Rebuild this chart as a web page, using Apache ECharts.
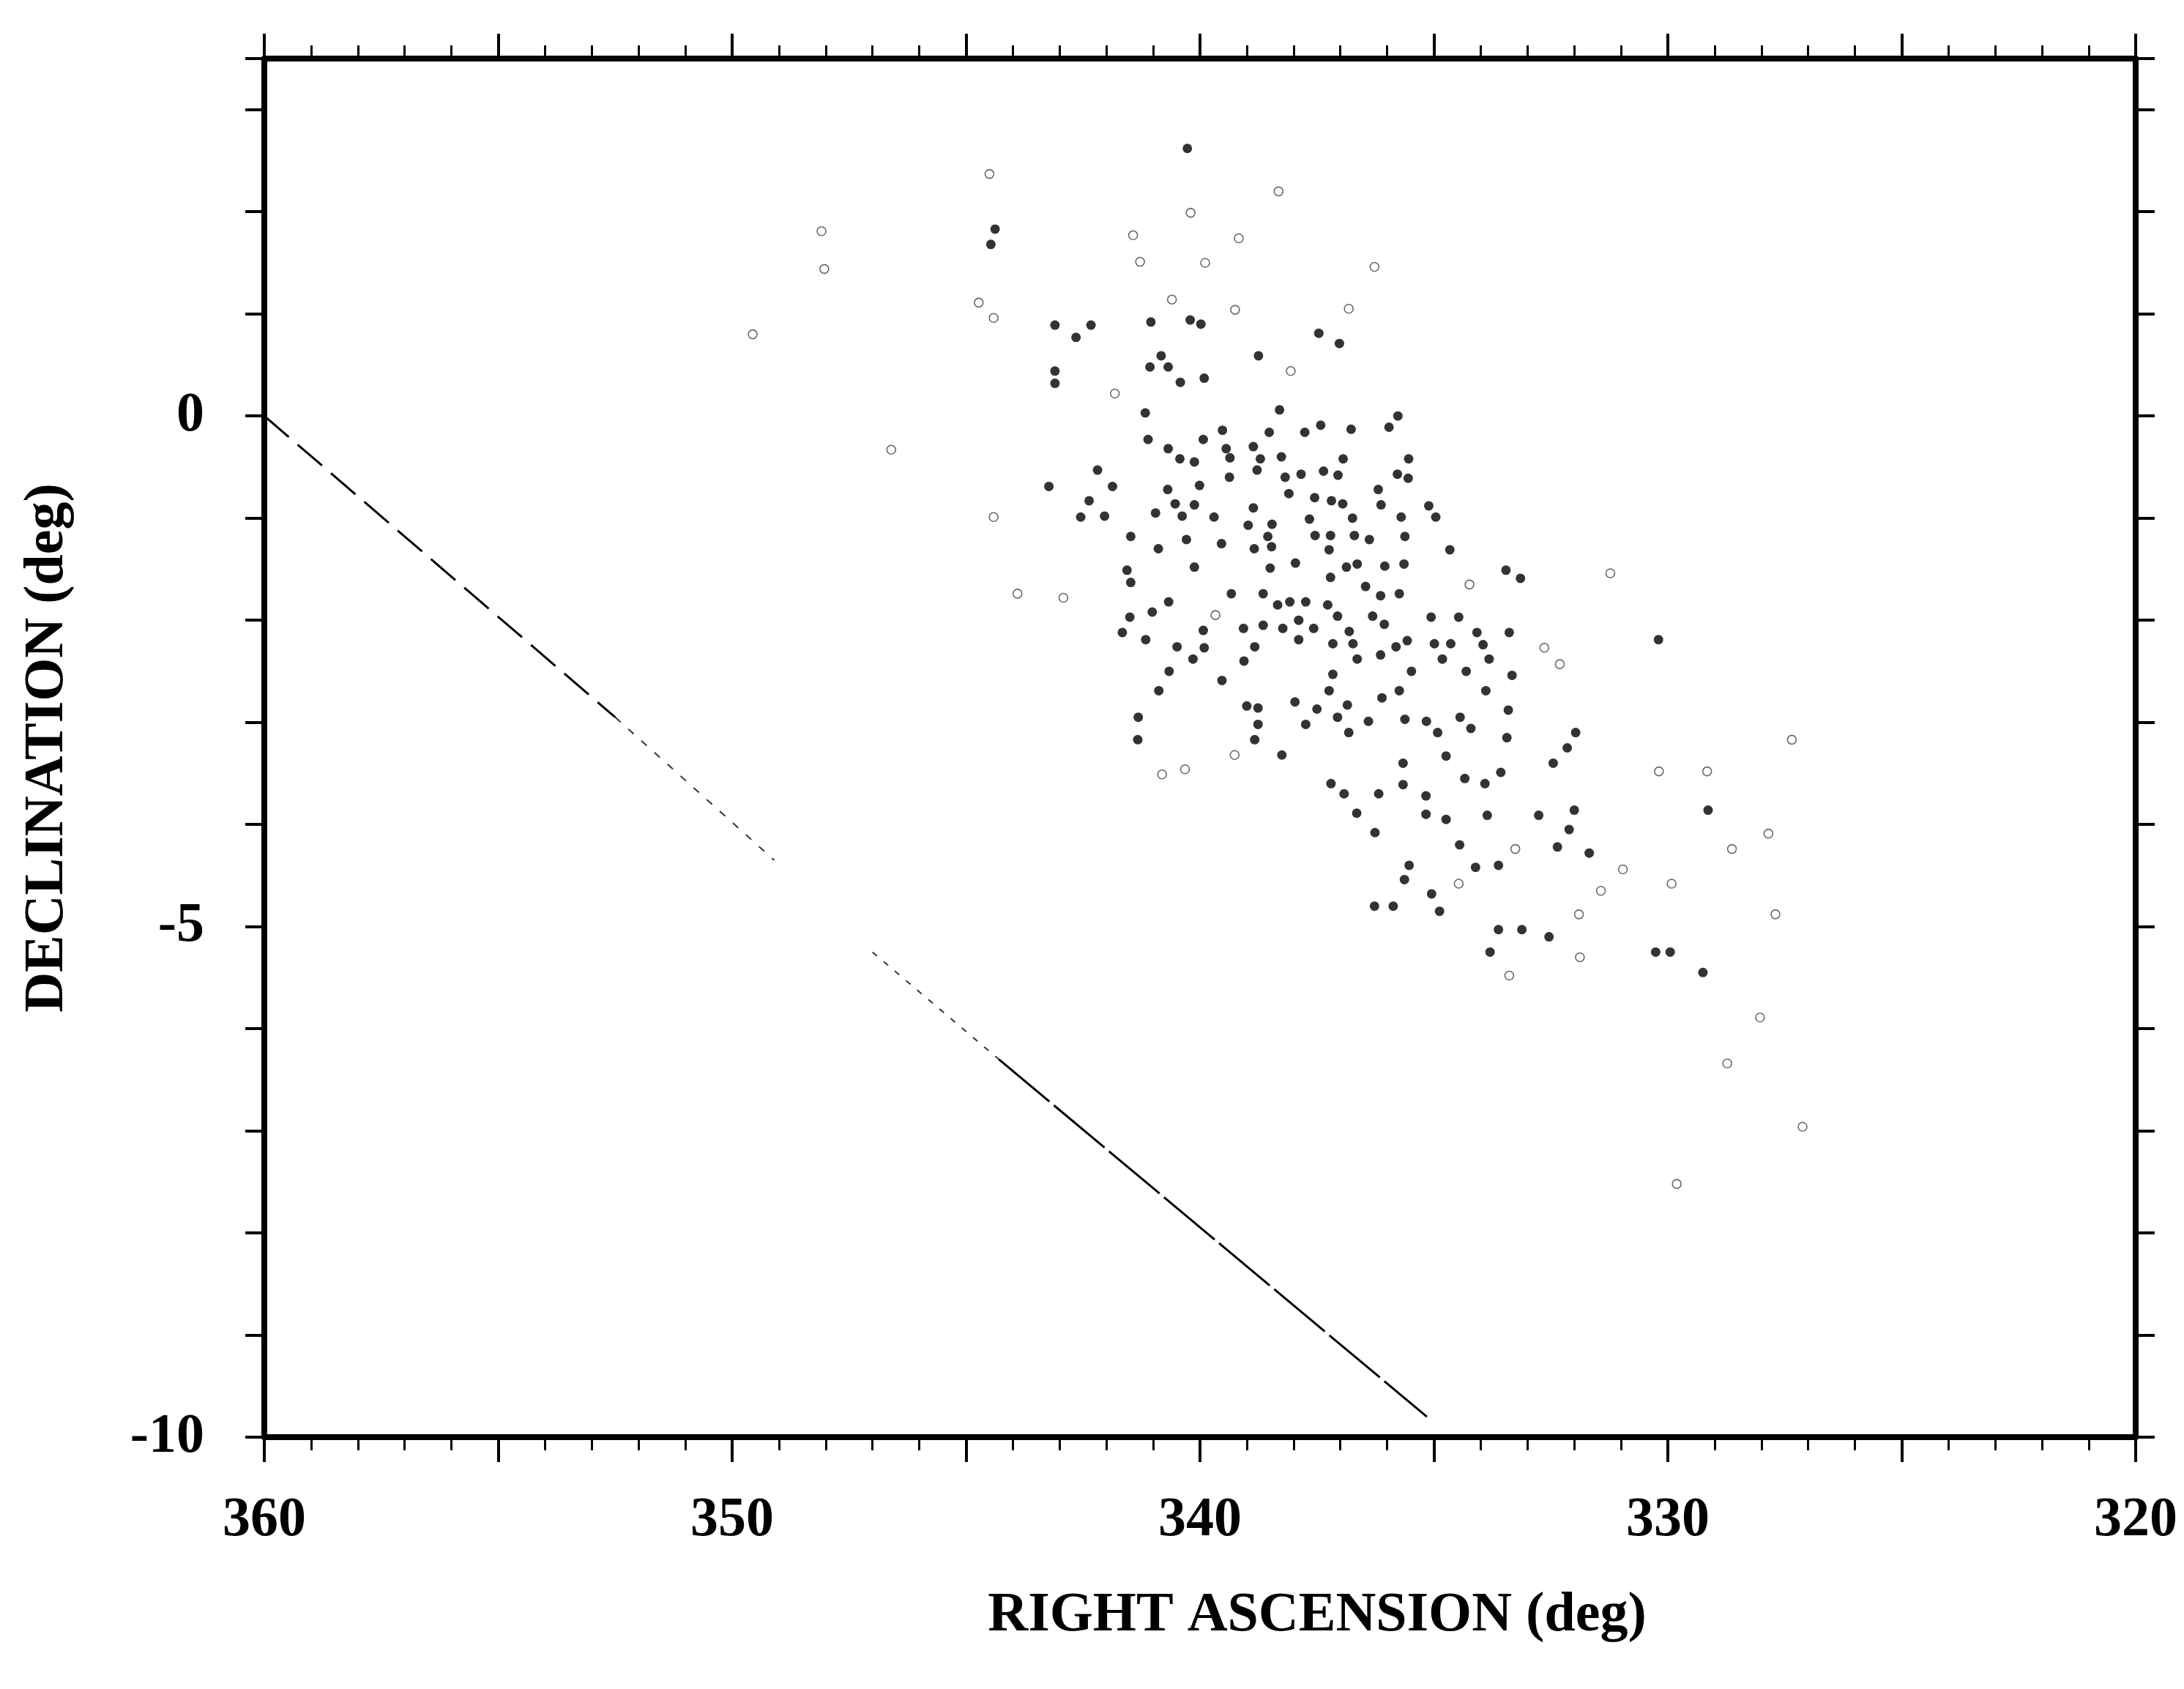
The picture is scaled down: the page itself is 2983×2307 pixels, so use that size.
<!DOCTYPE html>
<html>
<head>
<meta charset="utf-8">
<script src="https://cdn.jsdelivr.net/npm/echarts@6/dist/echarts.min.js"></script>
<style>
  html, body { margin: 0; padding: 0; background: #fff; }
  #chart { width: 2983px; height: 2307px; }
</style>
</head>
<body>
<div id="chart"></div>
<script>
// filled points (right ascension, declination)
const filledRA = [
  340.27, 344.38, 344.47, 343.10, 342.33, 342.65, 341.05, 340.21, 339.98, 338.75,
  340.83, 341.07, 340.68, 340.42, 339.91, 343.10, 343.10, 341.17, 338.30, 337.46,
  337.02, 335.77,
  339.52, 338.52, 337.76, 337.42, 341.11, 339.93, 340.68, 340.43, 340.12, 339.44,
  339.36, 338.86, 338.71, 338.26, 338.78, 342.19, 343.23, 341.87, 340.69, 340.01,
  339.37, 338.18, 337.84, 337.36, 338.10, 337.55, 337.19, 342.37, 342.55, 342.04,
  340.95, 340.53, 340.12, 340.38, 339.70, 338.86, 338.97, 338.46, 338.55, 337.66,
  337.54, 337.21, 337.24, 341.48, 340.89, 340.29, 339.54, 338.84, 338.47, 340.12,
  338.50, 337.96, 337.21, 341.56, 341.48, 339.33, 338.65, 340.67, 341.02, 341.50,
  338.34, 338.08, 337.74, 337.27, 339.93, 339.07, 338.65, 338.23, 337.89, 337.57,
  337.89, 341.66, 341.16, 340.49, 339.91, 338.83, 340.15, 339.06, 340.66, 337.16,
  339.53, 340.88, 337.16, 337.24, 339.00, 338.76, 337.97, 337.50, 341.32, 338.76,
  337.74,
  336.77, 335.96, 336.94, 335.54, 337.05, 335.78, 335.55, 336.19, 336.95, 336.13,
  335.11, 334.96, 336.74, 335.70, 336.70, 336.38, 335.62, 334.66, 336.87, 336.64,
  336.05, 335.64, 333.46, 333.15, 336.46, 336.14, 335.74, 337.06, 336.31, 336.06,
  335.06, 334.47, 336.81, 336.73, 335.57, 335.81, 334.99, 334.64, 334.08, 333.95,
  333.39, 336.64, 336.14, 334.82, 333.82, 335.48, 334.31, 333.33, 335.74, 336.11,
  336.85, 333.89, 333.41, 337.06, 336.40, 335.62, 335.16, 334.44, 334.21,
  341.33, 338.83, 338.25, 336.82, 334.92, 333.44, 331.97, 332.15, 332.45, 330.20,
  335.66, 336.18, 336.92, 335.66, 335.17, 334.34, 333.91, 333.57, 334.74, 337.20,
  336.65, 335.17, 334.74, 333.86, 332.76, 332.00, 329.14, 336.26, 332.11, 332.36,
  331.68, 334.45, 335.53, 334.11, 333.62, 335.63, 335.05, 336.27, 335.87, 334.88,
  333.62, 333.12, 332.54, 333.80, 330.26, 329.95, 329.25
];
const filledDec = [
  2.62, 1.83, 1.68, 0.89, 0.89, 0.77, 0.92, 0.94, 0.90, 0.59,
  0.59, 0.48, 0.48, 0.33, 0.37, 0.44, 0.32, 0.03, 0.06, 0.81,
  0.71, 0.00,
  -0.14, -0.16, -0.16, -0.09, -0.23, -0.23, -0.32, -0.42, -0.45, -0.32,
  -0.41, -0.30, -0.42, -0.40, -0.53, -0.53, -0.69, -0.69, -0.72, -0.68,
  -0.60, -0.60, -0.57, -0.54, -0.76, -0.80, -0.83, -0.83, -0.99, -0.98,
  -0.95, -0.86, -0.87, -0.98, -0.99, -0.90, -1.07, -1.06, -1.18, -1.01,
  -1.17, -1.17, -1.31, -1.18, -1.30, -1.21, -1.25, -1.30, -1.28, -1.48,
  -1.49, -1.44, -1.58, -1.51, -1.63, -1.74, -1.74, -1.82, -1.92, -1.97,
  -1.85, -1.82, -1.82, -1.85, -2.10, -2.08, -2.05, -2.08, -2.00, -2.08,
  -2.19, -2.12, -2.19, -2.26, -2.27, -2.26, -2.38, -2.40, -2.50, -2.23,
  -2.59, -2.69, -2.53, -2.69, -2.84, -2.86, -2.80, -2.87, -2.95, -3.02,
  -3.02,
  -0.13, -0.11, -0.42, -0.42, -0.58, -0.57, -0.61, -0.72, -0.86, -0.87,
  -0.88, -0.99, -1.00, -0.99, -1.17, -1.21, -1.18, -1.31, -1.48, -1.45,
  -1.47, -1.45, -1.51, -1.59, -1.67, -1.76, -1.74, -1.96, -1.96, -2.04,
  -1.97, -1.97, -2.11, -2.23, -2.20, -2.26, -2.23, -2.23, -2.12, -2.24,
  -2.12, -2.38, -2.34, -2.38, -2.38, -2.50, -2.50, -2.54, -2.69, -2.76,
  -2.83, -2.69, -2.88, -2.95, -2.99, -2.97, -2.99, -2.95, -3.06,
  -3.17, -3.17, -3.32, -3.10, -3.10, -3.15, -3.10, -3.25, -3.40, -2.19,
  -3.40, -3.70, -3.70, -3.61, -3.72, -3.55, -3.60, -3.49, -3.33, -3.60,
  -3.89, -3.90, -3.95, -3.91, -3.91, -3.86, -3.86, -4.08, -4.05, -4.22,
  -4.28, -4.20, -4.40, -4.42, -4.40, -4.54, -4.68, -4.80, -4.80, -4.85,
  -5.03, -5.03, -5.10, -5.25, -5.25, -5.25, -5.45
];

// open circles
const openRA = [
  344.50, 338.32, 340.20, 348.09, 341.43, 339.17, 341.28, 339.89, 348.03, 340.60,
  339.25, 344.73, 344.41, 349.56, 341.82, 336.27, 336.82, 338.06, 346.60, 344.41,
  343.90, 342.92, 339.67, 334.24, 331.23, 332.64, 332.31, 339.26, 340.81, 340.32,
  334.47, 333.26, 331.43, 330.96, 329.92, 328.63, 329.16, 330.19, 331.90, 328.03,
  331.88, 333.39, 328.73, 327.35, 327.85, 327.70, 327.12, 329.81
];
const openDec = [
  2.37, 2.20, 1.99, 1.81, 1.77, 1.74, 1.51, 1.50, 1.44, 1.14,
  1.04, 1.11, 0.96, 0.80, 0.22, 1.46, 1.05, 0.44, -0.33, -0.99,
  -1.74, -1.78, -1.95, -1.65, -1.54, -2.27, -2.43, -3.32, -3.51, -3.46,
  -4.58, -4.24, -4.65, -4.44, -4.58, -4.24, -3.48, -3.48, -4.88, -5.89,
  -5.30, -5.48, -6.34, -3.17, -4.09, -4.88, -6.96, -7.52
];

// the reference line, broken into pieces in the original print
const lineRA = [360, 352.5, 349.1, 347.0, 344.3, 335.15];
const lineDec = [0, -2.95, -4.35, -5.25, -6.3, -9.8];

const raTicks = [320, 330, 340, 350, 360];
const decTicks = [-10, -5, 0];

const chart = echarts.init(document.getElementById('chart'), null, { renderer: 'canvas' });

const pairs = (xs, ys) => xs.map((x, i) => [x, ys[i]]);
const seg = (a, b) => pairs(lineRA.slice(a, b + 1), lineDec.slice(a, b + 1));

const font = { fontFamily: 'Liberation Serif', fontWeight: 'bold', color: '#000' };
const black = '#000';

const xBase = {
  type: 'value', min: 320, max: 360, inverse: true, interval: 5,
  splitLine: { show: false },
  axisLine: { onZero: false, lineStyle: { color: black, width: 8 } },
  axisTick: { length: 34, lineStyle: { color: black, width: 4 } },
  minorTick: { show: true, splitNumber: 5, length: 18, lineStyle: { color: black, width: 3 } }
};
const yBase = {
  type: 'value', min: -10, max: 3.5, interval: 1,
  splitLine: { show: false },
  axisLine: { onZero: false, lineStyle: { color: black, width: 8 } },
  axisTick: { length: 26, lineStyle: { color: black, width: 4 } }
};

const option = {
  backgroundColor: '#fff',
  animation: false,
  grid: { left: 361, right: 66, top: 80, bottom: 344 },
  xAxis: [
    Object.assign({}, xBase, {
      position: 'bottom',
      axisLabel: Object.assign({}, font, {
        fontSize: 76, margin: 76,
        formatter: v => raTicks.includes(v) ? String(v) : ''
      }),
      name: 'RIGHT ASCENSION (deg)',
      nameLocation: 'middle',
      nameGap: 206,
      nameTextStyle: Object.assign({}, font, { fontSize: 76, padding: [0, 0, 0, 320] })
    }),
    Object.assign({}, xBase, { position: 'top', axisLabel: { show: false } })
  ],
  yAxis: [
    Object.assign({}, yBase, {
      position: 'left',
      axisLabel: Object.assign({}, font, {
        fontSize: 76, margin: 82,
        formatter: v => decTicks.includes(v) ? String(v) : ''
      }),
      name: 'DECLINATION (deg)',
      nameLocation: 'middle',
      nameRotate: 90,
      nameGap: 258,
      nameTextStyle: Object.assign({}, font, { fontSize: 76 })
    }),
    Object.assign({}, yBase, { position: 'right', axisLabel: { show: false } })
  ],
  series: [
    {
      type: 'line', data: seg(0, 1), showSymbol: false, silent: true,
      lineStyle: { color: black, width: 3, type: [44, 16] }
    },
    {
      type: 'line', data: seg(1, 2), showSymbol: false, silent: true,
      lineStyle: { color: '#333', width: 2, type: [10, 14] }
    },
    {
      type: 'line', data: seg(3, 4), showSymbol: false, silent: true,
      lineStyle: { color: '#333', width: 2, type: [8, 12] }
    },
    {
      type: 'line', data: seg(4, 5), showSymbol: false, silent: true,
      lineStyle: { color: black, width: 3, type: [90, 8] }
    },
    {
      type: 'scatter', data: pairs(openRA, openDec),
      symbol: 'circle', symbolSize: 12,
      itemStyle: { color: 'rgba(0,0,0,0)', borderColor: '#444', borderWidth: 1.6 }
    },
    {
      type: 'scatter', data: pairs(filledRA, filledDec),
      symbol: 'circle', symbolSize: 13,
      itemStyle: { color: black }
    }
  ]
};

chart.setOption(option);
</script>
</body>
</html>
